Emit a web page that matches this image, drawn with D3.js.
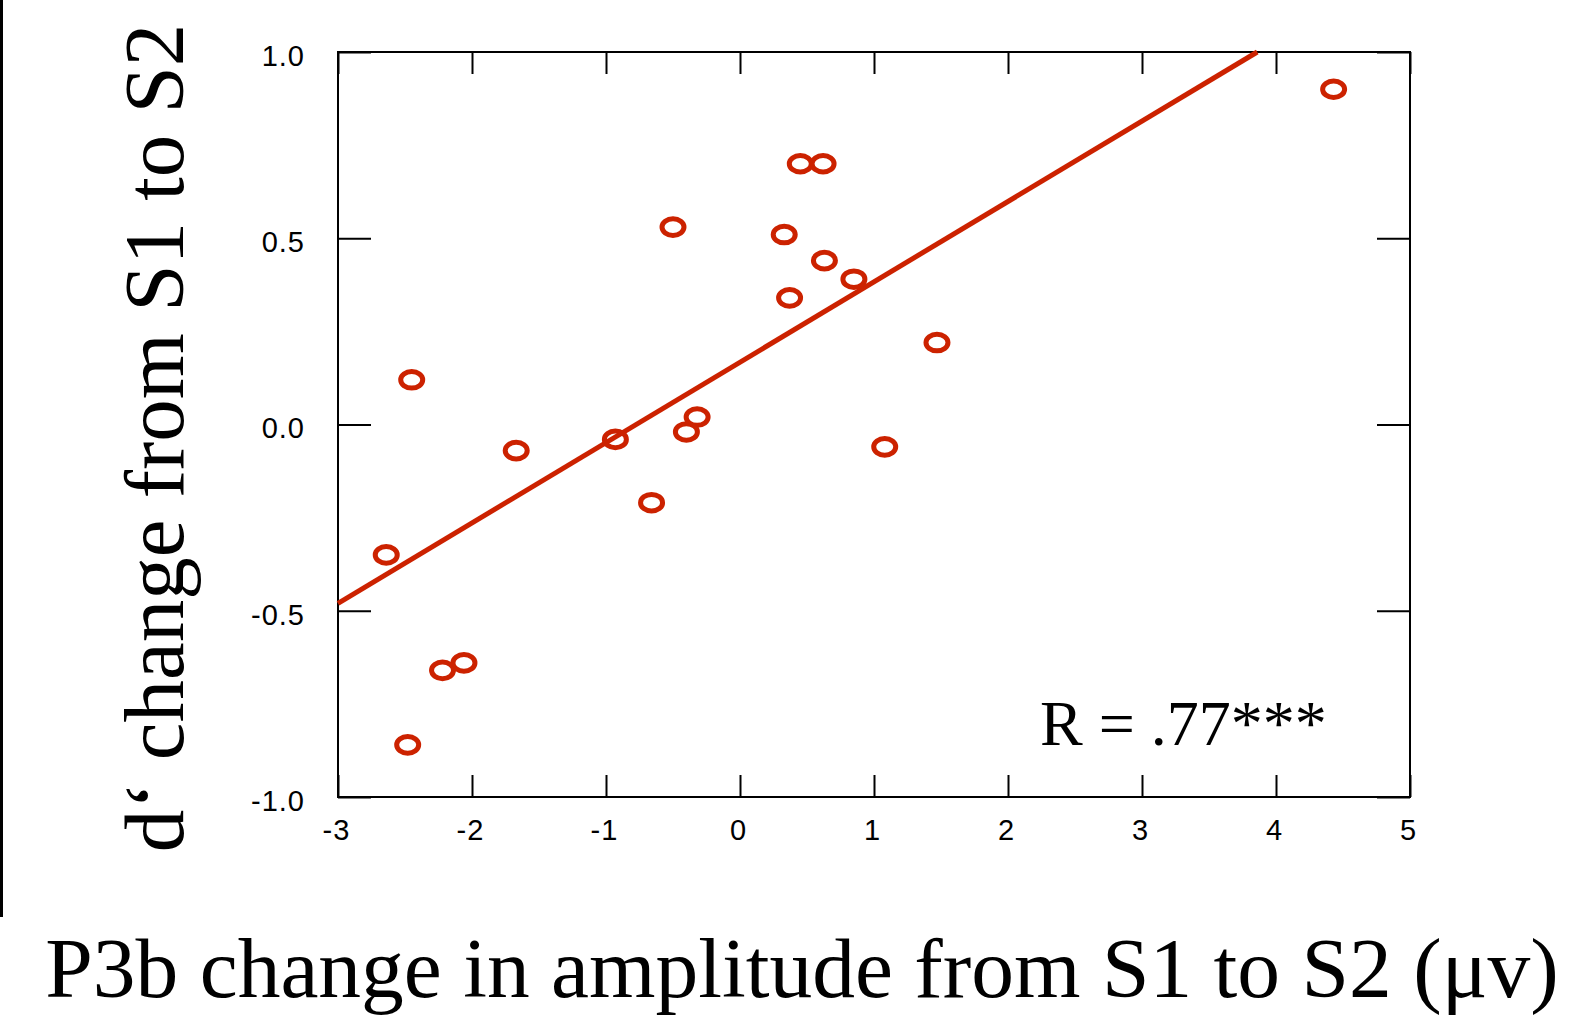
<!DOCTYPE html>
<html>
<head>
<meta charset="utf-8">
<title>P3b vs d' change</title>
<script src="https://cdn.jsdelivr.net/npm/d3@7"></script>
<style>
  body { margin: 0; background: #fff; }
  svg { display: block; }
</style>
</head>
<body>
<script>
// data
var p3bChange = [4.43, 0.45, 0.62, -0.50, 0.33, 0.63, 0.85, 0.37, 1.47, -2.45,
                 -0.32, -0.40, -0.93, -1.67, 1.08, -0.66, -2.64, -2.06, -2.22, -2.48];
var dprimeChange = [0.90, 0.70, 0.70, 0.53, 0.51, 0.44, 0.39, 0.34, 0.22, 0.12,
                    0.02, -0.02, -0.04, -0.07, -0.06, -0.21, -0.35, -0.64, -0.66, -0.86];
var fitX = [-3, 3.86];
var fitY = [-0.48, 1.0];
var xTicks = [-3, -2, -1, 0, 1, 2, 3, 4, 5];
var yTicks = [-1.0, -0.5, 0.0, 0.5, 1.0];
var rLabel = "R = .77***";

var w = 1584, h = 1016;
// plot box (don't call it "top", that's window.top)
var pLeft = 338, pRight = 1410, pTop = 52, pBottom = 797;
var red = "#cc2200";

var svg = d3.select("body").append("svg").attr("width", w).attr("height", h);

// stray border line at the far left
svg.append("line")
  .attr("x1", 1.5).attr("x2", 1.5).attr("y1", 0).attr("y2", 917)
  .attr("stroke", "#000").attr("stroke-width", 3);

var x = d3.scaleLinear().domain([-3, 5]).range([pLeft, pRight]);
var y = d3.scaleLinear().domain([-1, 1]).range([pBottom, pTop]);

// plain hyphen minus like the original
function fmt(spec) {
  var f = d3.format(spec);
  return function(d) { return f(d).replace("\u2212", "-"); };
}

function styleAxis(g) {
  g.select(".domain").remove();
  g.selectAll(".tick line").attr("stroke", "#000").attr("stroke-width", 2);
  g.selectAll(".tick text")
    .attr("fill", "#000")
    .style("font-family", "'Liberation Sans', Arial, sans-serif")
    .style("font-size", "29px")
    .style("letter-spacing", "1px");
}

svg.append("g").attr("transform", "translate(0," + pBottom + ")")
  .call(d3.axisBottom(x).tickValues(xTicks).tickSize(-22).tickPadding(22).tickFormat(fmt("d")))
  .call(styleAxis)
  .selectAll(".tick text").attr("dx", "-2px");

svg.append("g").attr("transform", "translate(0," + pTop + ")")
  .call(d3.axisTop(x).tickValues(xTicks).tickSize(-22).tickFormat(""))
  .call(styleAxis);

svg.append("g").attr("transform", "translate(" + pLeft + ",0)")
  .call(d3.axisLeft(y).tickValues(yTicks).tickSize(-33).tickPadding(33).tickFormat(fmt(".1f")))
  .call(styleAxis)
  .selectAll(".tick text").attr("dy", "0.46em");

svg.append("g").attr("transform", "translate(" + pRight + ",0)")
  .call(d3.axisRight(y).tickValues(yTicks).tickSize(-33).tickFormat(""))
  .call(styleAxis);

// frame
svg.append("rect")
  .attr("x", pLeft).attr("y", pTop)
  .attr("width", pRight - pLeft).attr("height", pBottom - pTop)
  .attr("fill", "none").attr("stroke", "#000").attr("stroke-width", 2);

// regression line
var fit = fitX.map(function(d, i) { return [d, fitY[i]]; });
svg.append("path")
  .datum(fit)
  .attr("d", d3.line().x(function(d) { return x(d[0]); }).y(function(d) { return y(d[1]); }))
  .attr("fill", "none").attr("stroke", red).attr("stroke-width", 5);

// points
svg.selectAll("ellipse.pt").data(p3bChange).enter().append("ellipse")
  .attr("class", "pt")
  .attr("cx", function(d) { return x(d); })
  .attr("cy", function(d, i) { return y(dprimeChange[i]); })
  .attr("rx", 11).attr("ry", 8.3)
  .attr("fill", "none").attr("stroke", red).attr("stroke-width", 5);

// R label
svg.append("text")
  .attr("x", 1040).attr("y", 745)
  .attr("font-family", "'Liberation Serif', 'Times New Roman', serif")
  .attr("font-size", "64px").attr("fill", "#000")
  .text(rLabel);

// axis titles
svg.append("text")
  .attr("transform", "translate(183,438) rotate(-90)")
  .attr("text-anchor", "middle")
  .attr("font-family", "'Liberation Serif', 'Times New Roman', serif")
  .attr("font-size", "85px").attr("fill", "#000")
  .text("d\u2018 change from S1 to S2");

svg.append("text")
  .attr("x", 802).attr("y", 997)
  .attr("text-anchor", "middle")
  .attr("font-family", "'Liberation Serif', 'Times New Roman', serif")
  .attr("font-size", "85.5px").attr("fill", "#000")
  .text("P3b change in amplitude from S1 to S2 (\u03bcv)");
</script>
</body>
</html>
